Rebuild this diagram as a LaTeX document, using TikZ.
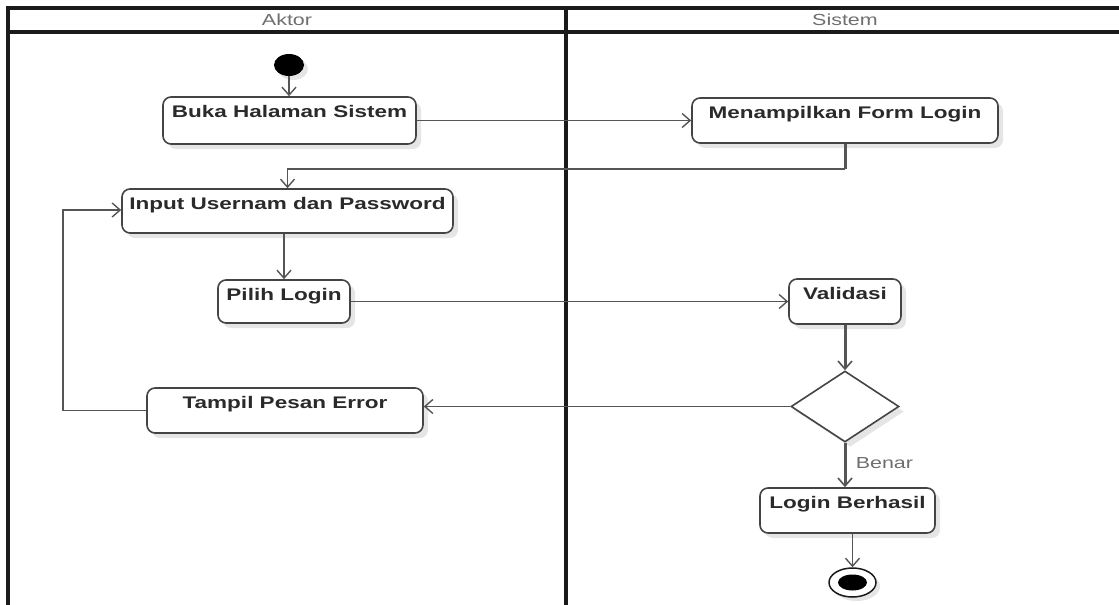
\documentclass[tikz,border=0pt]{standalone}
\usepackage{fontspec}
\usepackage{graphicx}
\setmainfont{Liberation Sans}
\usetikzlibrary{arrows.meta,shapes.geometric,shadows,calc}
\definecolor{frame}{HTML}{1A1A1A}
\definecolor{conn}{HTML}{555555}
\definecolor{boxline}{HTML}{444444}
\definecolor{txt}{HTML}{2A2A2A}
\definecolor{hdr}{HTML}{6E6E6E}
\newcommand\wide[1]{\scalebox{1.34}[1]{#1}}
\tikzset{
  actbox/.style={draw=boxline, line width=1.6pt, rounded corners=8pt, fill=white,
    inner sep=0pt, text height=20pt, text depth=25pt, align=center,
    font=\fontsize{16.8}{19}\selectfont\bfseries, text=txt,
    drop shadow={shadow xshift=5pt, shadow yshift=-5pt, opacity=.10, fill=black}},
  decbox/.style={diamond, draw=boxline, line width=1.6pt, fill=white, inner sep=0pt,
    minimum width=108pt, minimum height=71pt,
    drop shadow={shadow xshift=5pt, shadow yshift=-5pt, opacity=.10, fill=black}},
  conarrow/.style={draw=conn, line width=1.4pt, -{Straight Barb[length=8pt,width=14pt,line width=1.4pt]}},
  thickarrow/.style={draw=conn, line width=3pt, -{Straight Barb[length=8pt,width=14pt,line width=1.6pt]}},
  lanehdr/.style={font=\fontsize{16}{18}\selectfont, text=hdr},
  guardlbl/.style={font=\fontsize{16}{18}\selectfont, text=hdr, anchor=west},
  laneline/.style={draw=frame, line width=3.2pt}
}
\begin{document}
\begin{tikzpicture}[x=1pt,y=-1pt]
\useasboundingbox (0,0) rectangle (1119,605);
% swimlane frame
\draw[laneline] (8,8) -- (1119,8);
\draw[laneline] (8,32) -- (1119,32);
\draw[laneline] (8,6.4) -- (8,605);
\draw[laneline] (566,6.4) -- (566,605);
\node[lanehdr] (hA) at (287,20) {\wide{Aktor}};
\node[lanehdr] (hS) at (845,20) {\wide{Sistem}};
% nodes
\node[ellipse, fill=black, inner sep=0pt, minimum width=30pt, minimum height=22pt,
  drop shadow={shadow xshift=4pt, shadow yshift=-4pt, opacity=.10, fill=black}] (start) at (289,65) {};
\node[actbox, minimum width=253pt, text depth=27pt] (buka) at (289.5,120.5) {\wide{Buka Halaman Sistem}};
\node[actbox, minimum width=306pt] (form) at (845,120.5) {\wide{Menampilkan Form Login}};
\node[actbox, minimum width=331pt, text depth=24pt] (input) at (287.5,211) {\wide{Input Usernam dan Password}};
\node[actbox, minimum width=132pt, text depth=23pt] (pilih) at (284,301.5) {\wide{Pilih Login}};
\node[actbox, minimum width=112pt] (valid) at (845,301.5) {\wide{Validasi}};
\node[decbox] (dec) at (845,406.5) {};
\node[actbox, minimum width=276pt] (tampil) at (285,410.5) {\wide{Tampil Pesan Error}};
\node[actbox, minimum width=175pt] (login) at (847.5,510.5) {\wide{Login Berhasil}};
\node[ellipse, draw=frame, line width=1.5pt, fill=white, inner sep=0pt, minimum width=47pt, minimum height=29pt,
  drop shadow={shadow xshift=4pt, shadow yshift=-4pt, opacity=.10, fill=black}] (final) at (852.5,582.5) {};
\node[ellipse, fill=black, inner sep=0pt, minimum width=29pt, minimum height=16pt] (finaldot) at (final.center) {};
% connectors
\coordinate (c1) at (845,169);
\coordinate (l1) at (63,210);
\draw[conarrow] (start.south) -- (start.south |- buka.north);
\draw[conarrow] (buka.east) -- (form.west);
\draw[draw=conn, line width=3pt] (form.south) -- (c1);
\draw[conarrow] (c1) -| (input.north);
\draw[conarrow] (input.south -| pilih.north) -- (pilih.north);
\draw[conarrow] (pilih.east) -- (valid.west);
\draw[thickarrow] (valid.south) -- (dec.north);
\draw[conarrow] (dec.west) -- (dec.west -| tampil.east);
\draw[conarrow] (tampil.west) -- (tampil.west -| l1) -- (l1) -- (l1 -| input.west);
\draw[thickarrow] (dec.south) -- (dec.south |- login.north) node[guardlbl, pos=0.45, xshift=6pt] (benar) {\wide{Benar}};
\draw[conarrow] (login.south -| final.north) -- (final.north);
\end{tikzpicture}
\end{document}
